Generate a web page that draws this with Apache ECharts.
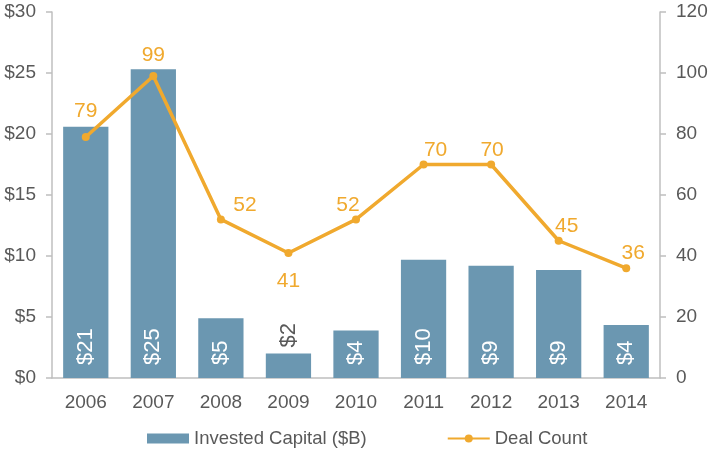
<!DOCTYPE html>
<html lang="en">
<head>
<meta charset="UTF-8">
<title>Invested Capital and Deal Count</title>
<script src="https://cdn.jsdelivr.net/npm/echarts@6/dist/echarts.min.js"></script>
<style>
  body { margin: 0; background: #fff; }
  #main { width: 713px; height: 450px; }
</style>
</head>
<body>
<div id="main"></div>
<script>
  // data
  const years = ['2006', '2007', '2008', '2009', '2010', '2011', '2012', '2013', '2014'];
  const capital = [20.6, 25.3, 4.9, 2.0, 3.9, 9.7, 9.2, 8.85, 4.35];
  const deals = [79, 99, 52, 41, 52, 70, 70, 45, 36];

  const textGray = '#595959';
  const barBlue = '#6b97b1';
  const orange = '#f0a92e';
  const axisGray = '#bfbfbf';
  const font = 'Liberation Sans, Arial, sans-serif';

  // nudges for the line labels so they sit like in the original
  const lineLabelOffsets = [[0, -11], [0, -6], [24, 0], null, [-8, 0], [12, 0], [1, 0], [8, 0], [7, 0]];

  const myChart = echarts.init(document.getElementById('main'));

  // bar data: small bars put their label above the bar in gray
  const barData = capital.map(function (v) {
    if (v < 3) {
      return {
        value: v,
        label: { position: 'top', color: textGray, distance: 6 }
      };
    }
    return v;
  });

  const lineData = deals.map(function (v, i) {
    const off = lineLabelOffsets[i];
    if (!off) return { value: v, label: { position: 'bottom', distance: 14 } };
    return { value: v, label: { offset: off } };
  });

  const option = {
    animation: false,
    textStyle: { fontFamily: font },
    grid: { left: 52, right: 53, top: 12, bottom: 72 },
    legend: {
      left: 142,
      top: 424,
      itemGap: 80,
      itemWidth: 42,
      itemHeight: 10,
      textStyle: { color: textGray, fontSize: 18.5, fontFamily: font },
      data: [
        { name: 'Invested Capital ($B)', icon: 'rect' },
        { name: 'Deal Count' }
      ]
    },
    xAxis: {
      type: 'category',
      data: years,
      axisLine: { lineStyle: { color: axisGray, width: 1.5 } },
      axisTick: { length: 6, lineStyle: { color: axisGray, width: 1.5 } },
      axisLabel: { color: textGray, fontSize: 19, margin: 15 }
    },
    yAxis: [
      {
        type: 'value',
        min: 0, max: 30, interval: 5,
        axisLine: { show: true, lineStyle: { color: axisGray, width: 1.5 } },
        axisTick: { show: true, length: 6, lineStyle: { color: axisGray, width: 1.5 } },
        splitLine: { show: false },
        axisLabel: { color: textGray, fontSize: 19, margin: 16, formatter: '${value}' }
      },
      {
        type: 'value',
        min: 0, max: 120, interval: 20,
        axisLine: { show: true, lineStyle: { color: axisGray, width: 1.5 } },
        axisTick: { show: true, length: 6, lineStyle: { color: axisGray, width: 1.5 } },
        splitLine: { show: false },
        axisLabel: { color: textGray, fontSize: 19, margin: 16 }
      }
    ],
    series: [
      {
        name: 'Invested Capital ($B)',
        type: 'bar',
        data: barData,
        barCategoryGap: '33%',
        itemStyle: { color: barBlue },
        label: {
          show: true,
          position: 'insideBottom',
          rotate: 90,
          align: 'left',
          verticalAlign: 'middle',
          distance: 13,
          color: '#ffffff',
          fontSize: 22,
          fontFamily: font,
          formatter: function (p) { return '$' + Math.round(p.value); }
        }
      },
      {
        name: 'Deal Count',
        type: 'line',
        yAxisIndex: 1,
        data: lineData,
        symbol: 'circle',
        symbolSize: 8,
        lineStyle: { color: orange, width: 3.5 },
        itemStyle: { color: orange },
        label: {
          show: true,
          position: 'top',
          distance: 0,
          color: orange,
          fontSize: 21,
          fontFamily: font
        }
      }
    ]
  };

  myChart.setOption(option);
</script>
</body>
</html>
